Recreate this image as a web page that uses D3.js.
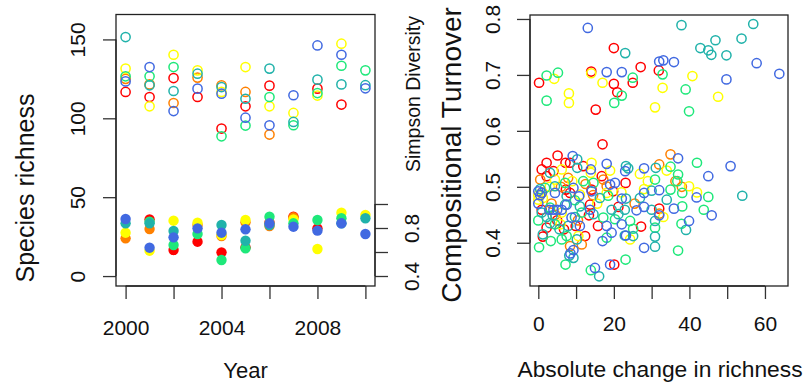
<!DOCTYPE html>
<html>
<head>
<meta charset="utf-8">
<script src="https://cdn.jsdelivr.net/npm/d3@7"></script>
<style>
  body { margin: 0; background: #fff; }
  svg { font-family: "Liberation Sans", Arial, sans-serif; }
</style>
</head>
<body>
<svg id="chart" width="806" height="383"></svg>
<script>
// ---- data ----
const years = [2000, 2001, 2002, 2003, 2004, 2005, 2006, 2007, 2008, 2009, 2010];
const colours = ["#FF0000", "#FF8000", "#FFFF00", "#1EE87A", "#20B2AA", "#4169E1"];

// species richness per year (open circles), one array per site colour
const richRed    = [116.7, 113.5, 125.5, 113.5, 93.5, 107.6, 120.7, null, 118.8, 108.7, null];
const richOrange = [125.0, 121.5, 109.7, 125.8, 120.9, 116.7, 89.7, null, null, null, null];
const richYellow = [131.5, 107.6, 140.3, 130.4, 116.7, 132.5, 107.6, 103.4, 114.4, 147.3, null];
const richGreen  = [126.6, 126.6, 132.5, null, 88.6, 95.4, 113.5, 95.6, 116.0, 133.3, 130.4];
const richTeal   = [151.5, 120.9, 117.3, 128.3, 119.8, 112.4, 131.5, 97.7, 124.5, 121.5, 121.0];
const richBlue   = [123.4, 132.5, 104.6, 118.8, 115.6, 100.4, 95.6, 114.6, 146.2, 140.3, 119.0];

// Simpson diversity per year (filled circles)
const simpRed    = [null, 0.872, 0.617, 0.686, 0.597, 0.639, 0.847, 0.894, 0.797, null, null];
const simpOrange = [0.714, 0.792, null, 0.825, 0.733, 0.847, 0.817, 0.889, null, null, null];
const simpYellow = [0.761, 0.611, 0.861, 0.844, 0.742, 0.867, 0.839, 0.872, 0.625, 0.928, 0.908];
const simpGreen  = [null, 0.853, 0.658, 0.750, 0.533, 0.631, 0.894, 0.839, 0.867, 0.881, null];
const simpTeal   = [0.839, 0.839, 0.775, null, 0.825, 0.694, 0.825, null, null, 0.839, 0.881];
const simpBlue   = [0.875, 0.636, 0.722, 0.797, 0.761, 0.789, 0.839, 0.811, 0.778, 0.839, 0.750];

// absolute change in richness vs compositional turnover, [change, turnover]
const turnRed = [[0.2,0.686],[14.0,0.706],[20.0,0.748],[27.1,0.714],[31.9,0.708],[25.0,0.686],[20.0,0.684],[20.9,0.669],[15.2,0.638],
  [17.0,0.576],[5.1,0.556],[2.2,0.543],[7.2,0.543],[8.4,0.543],[23.1,0.507],[32.0,0.461],[27.2,0.429],[21.2,0.464],[19.8,0.492],
  [16.8,0.519],[20.1,0.361],[1.2,0.411],[0.9,0.459],[2.2,0.427],[0.9,0.531],[2.2,0.519],[4.0,0.528],[7.3,0.495],[8.4,0.489],
  [11.9,0.537],[14.1,0.495],[13.7,0.468],[13.4,0.449],[12.4,0.412],[6.8,0.424],[5.0,0.44],[9.9,0.43],[15.8,0.43]];
const turnOrange = [[35.0,0.558],[36.3,0.51],[32.0,0.54],[32.0,0.452],[18.1,0.501],[17.2,0.513],[8.4,0.394],[11.5,0.397],[7.9,0.516],
  [0.5,0.513],[3.5,0.47],[1.0,0.49],[4.5,0.45],[10.5,0.44],[6.0,0.5],[14.5,0.485],[25.5,0.47],[38.0,0.5],[12.5,0.505]];
const turnYellow = [[14.0,0.703],[4.2,0.693],[8.1,0.667],[8.1,0.65],[17.0,0.686],[32.9,0.677],[40.8,0.698],[47.6,0.661],[30.9,0.642],
  [14.1,0.543],[39.9,0.501],[26.9,0.523],[34.0,0.529],[28.0,0.496],[33.1,0.446],[24.3,0.406],[18.1,0.489],[19.0,0.529],[0,0.477],
  [4.4,0.513],[6.2,0.531],[11.0,0.486],[13.9,0.525],[10.6,0.412],[5.9,0.433],[1.2,0.48],[0,0.485],[6.2,0.454],[15.6,0.47],
  [3.0,0.5],[9.0,0.51],[22.0,0.49],[29.0,0.51],[42.0,0.49]];
const turnGreen = [[32.9,0.701],[25.0,0.695],[22.1,0.663],[20.1,0.65],[2.2,0.699],[5.2,0.704],[2.2,0.654],[39.0,0.674],[39.9,0.635],
  [42.0,0.543],[45.0,0.482],[43.8,0.459],[37.9,0.434],[37.0,0.386],[38.1,0.489],[35.0,0.495],[38.1,0.465],[37.0,0.522],[36.8,0.51],
  [30.9,0.513],[35.0,0.536],[30.9,0.427],[24.3,0.439],[25.1,0.425],[20.3,0.442],[18.5,0.484],[18.1,0.409],[23.1,0.37],[13.9,0.351],
  [7.2,0.361],[0.2,0.392],[3.3,0.403],[0,0.44],[3.1,0.463],[1.8,0.498],[7.1,0.507],[11.9,0.51],[14.6,0.507],[9.7,0.476],
  [11.5,0.454],[7.5,0.412],[6.2,0.406],[4.4,0.433],[17.2,0.445]];
const turnTeal = [[37.9,0.789],[56.9,0.791],[23.0,0.739],[46.9,0.762],[53.8,0.765],[42.9,0.748],[45.0,0.744],[45.8,0.736],[49.8,0.735],
  [10.3,0.549],[54.0,0.484],[39.1,0.423],[31.1,0.534],[23.2,0.537],[23.8,0.533],[30.0,0.493],[26.9,0.48],[23.2,0.479],[34.0,0.477],
  [30.0,0.459],[30.9,0.439],[30.9,0.411],[30.9,0.393],[22.9,0.459],[22.9,0.413],[25.1,0.412],[21.2,0.451],[19.4,0.459],[16.1,0.34],
  [9.3,0.373],[8.2,0.377],[1.2,0.415],[0.9,0.454],[0.5,0.496],[2.2,0.446],[3.8,0.449],[3.1,0.525],[4.4,0.501],[10.3,0.534],
  [7.1,0.468],[7.5,0.483],[11.0,0.465],[14.6,0.451],[10.2,0.406],[7.9,0.43],[5.6,0.424],[3.1,0.435],[9.7,0.446],[16.3,0.48]];
const turnBlue = [[13.1,0.784],[32.0,0.724],[33.1,0.726],[35.9,0.723],[57.8,0.721],[63.8,0.702],[49.8,0.692],[18.1,0.705],[22.1,0.705],
  [9.1,0.555],[18.1,0.541],[37.0,0.551],[50.9,0.537],[45.0,0.519],[41.9,0.481],[45.9,0.449],[39.9,0.439],[35.9,0.461],[28.0,0.533],
  [23.0,0.528],[32.0,0.494],[28.0,0.489],[22.1,0.479],[28.0,0.464],[32.0,0.449],[28.0,0.391],[26.0,0.458],[22.1,0.433],[23.2,0.413],
  [20.3,0.507],[19.0,0.504],[18.1,0.43],[17.0,0.403],[19.0,0.361],[15.0,0.355],[8.5,0.381],[9.3,0.387],[0,0.492],[0.9,0.489],
  [0.5,0.485],[2.9,0.459],[4.0,0.459],[5.0,0.459],[6.2,0.459],[4.4,0.489],[9.3,0.498],[14.1,0.492],[13.9,0.531],[7.5,0.468],
  [10.8,0.483],[13.7,0.459],[11.0,0.43],[8.8,0.445],[0,0.47],[19.4,0.418]];

// tick values and the labels R kept
const yearTicks = [2000, 2002, 2004, 2006, 2008, 2010];
const yearLabels = [2000, 2004, 2008];
const richTicks = [0, 50, 100, 150];
const simpTicks = [0.4, 0.6, 0.8, 1.0];
const simpLabels = [0.4, 0.8];
const changeTicks = [0, 10, 20, 30, 40, 50, 60];
const changeLabels = [0, 20, 40, 60];
const turnTicks = [0.4, 0.5, 0.6, 0.7, 0.8];

const richSeries = [richRed, richOrange, richYellow, richGreen, richTeal, richBlue];
const simpSeries = [simpRed, simpOrange, simpYellow, simpGreen, simpTeal, simpBlue];
const turnSeries = [turnRed, turnOrange, turnYellow, turnGreen, turnTeal, turnBlue];

// ---- layout ----
const svg = d3.select("#chart");
const left = { x0: 116, x1: 375, y0: 14.5, y1: 286 };
const right = { x0: 530, x1: 788, y0: 15, y1: 286 };
const tickLen = 13;
const tickFont = 21;

const x = d3.scaleLinear().domain([1999.6, 2010.4]).range([left.x0, left.x1]);
const yRich = d3.scaleLinear().domain([-6.3, 165.8]).range([left.y1, left.y0]);
const ySimp = d3.scaleLinear().domain([0.3167, 2.579]).range([left.y1, left.y0]);
const xChange = d3.scaleLinear().domain([-2.2, 66.1]).range([right.x0, right.x1]);
const yTurn = d3.scaleLinear().domain([0.3227, 0.8071]).range([right.y1, right.y0]);

// R style axis: line only between the end ticks, outward ticks
function rAxis(axisFn, scale, ticks, labels, at, rotateLabels, labelDist) {
  const g = svg.append("g").attr("transform", at);
  g.call(axisFn(scale).tickValues(ticks).tickSize(tickLen).tickSizeOuter(0)
    .tickFormat(d => labels.includes(d) ? String(d) : ""));
  g.select(".domain").remove();
  g.selectAll(".tick line").attr("stroke", "#333").attr("stroke-width", 1.3);
  const horiz = axisFn === d3.axisBottom;
  const sign = axisFn === d3.axisLeft ? -1 : 1;
  g.append("line")
    .attr(horiz ? "x1" : "y1", scale(ticks[0]))
    .attr(horiz ? "x2" : "y2", scale(ticks[ticks.length - 1]))
    .attr("stroke", "#333").attr("stroke-width", 1.3);
  const txt = g.selectAll(".tick text")
    .attr("font-size", tickFont).attr("fill", "#111")
    .attr("font-family", null);
  if (rotateLabels) {
    txt.attr("x", null).attr("y", 0).attr("dy", "0.35em")
      .attr("text-anchor", "middle")
      .attr("transform", `translate(${sign * labelDist},0) rotate(-90)`);
  } else {
    txt.attr("y", labelDist).attr("dy", "0.35em");
  }
  return g;
}

function box(p) {
  svg.append("rect").attr("x", p.x0).attr("y", p.y0)
    .attr("width", p.x1 - p.x0).attr("height", p.y1 - p.y0)
    .attr("fill", "none").attr("stroke", "#222").attr("stroke-width", 1.3);
}

function rotatedLabel(text, cx, cy, size) {
  svg.append("text")
    .attr("transform", `translate(${cx},${cy}) rotate(-90)`)
    .attr("dy", "0.35em").attr("text-anchor", "middle")
    .attr("font-size", size).attr("fill", "#111").text(text);
}

// ---- left panel ----
rAxis(d3.axisBottom, x, yearTicks, yearLabels, `translate(0,${left.y1})`, false, 42);
rAxis(d3.axisLeft, yRich, richTicks, richTicks, `translate(${left.x0},0)`, true, 38);
rAxis(d3.axisRight, ySimp, simpTicks, simpLabels, `translate(${left.x1},0)`, true, 37);

const pts = svg.append("g");
richSeries.forEach((vals, i) => {
  pts.selectAll(null)
    .data(years.map((yr, j) => [yr, vals[j]]).filter(d => d[1] != null))
    .join("circle")
    .attr("cx", d => x(d[0])).attr("cy", d => yRich(d[1])).attr("r", 4.6)
    .attr("fill", "none").attr("stroke", colours[i]).attr("stroke-width", 1.5);
});
simpSeries.forEach((vals, i) => {
  pts.selectAll(null)
    .data(years.map((yr, j) => [yr, vals[j]]).filter(d => d[1] != null))
    .join("circle")
    .attr("cx", d => x(d[0])).attr("cy", d => ySimp(d[1])).attr("r", 5.2)
    .attr("fill", colours[i]);
});
box(left);

svg.append("text").attr("x", (left.x0 + left.x1) / 2).attr("y", 378)
  .attr("text-anchor", "middle").attr("font-size", 22).attr("fill", "#111").text("Year");
rotatedLabel("Species richness", 25, 188, 25);
rotatedLabel("Simpson Diversity", 413, 94, 19.5);

// ---- right panel ----
rAxis(d3.axisBottom, xChange, changeTicks, changeLabels, `translate(0,${right.y1})`, false, 38);
rAxis(d3.axisLeft, yTurn, turnTicks, turnTicks, `translate(${right.x0},0)`, true, 37);

const pts2 = svg.append("g");
turnSeries.forEach((vals, i) => {
  pts2.selectAll(null).data(vals).join("circle")
    .attr("cx", d => xChange(d[0])).attr("cy", d => yTurn(d[1])).attr("r", 4.6)
    .attr("fill", "none").attr("stroke", colours[i]).attr("stroke-width", 1.5);
});
box(right);

svg.append("text").attr("x", (right.x0 + right.x1) / 2 + 1).attr("y", 377)
  .attr("text-anchor", "middle").attr("font-size", 22.8).attr("fill", "#111")
  .text("Absolute change in richness");
rotatedLabel("Compositional Turnover", 451, 155, 28);
</script>
</body>
</html>
